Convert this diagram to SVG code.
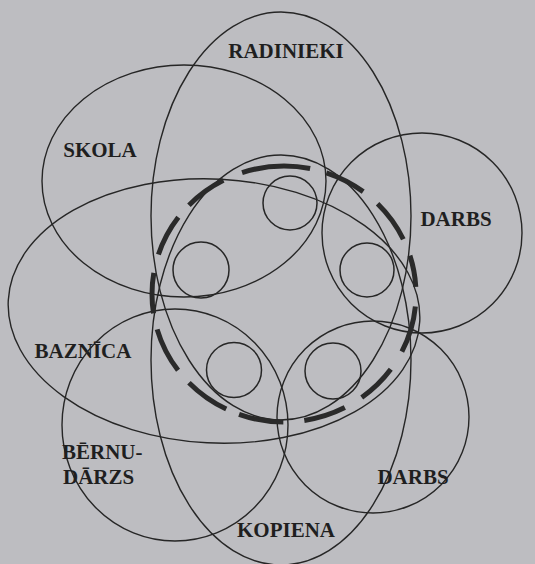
<svg xmlns="http://www.w3.org/2000/svg" width="535" height="564" viewBox="0 0 535 564">
<style>
.bg{fill:#bdbdc1}
.ring{fill:none;stroke:#262626;stroke-width:1.4}
.member{fill:none;stroke:#262626;stroke-width:1.5}
.family{fill:none;stroke:#2a2a2a;stroke-width:5}
.lbl{font-family:"Liberation Serif","Times New Roman",serif;font-weight:bold;font-size:21px;fill:#1f1f1f}
</style>
<rect class="bg" x="0" y="0" width="535" height="564"/>
<g id="radinieki">
<ellipse class="ring" cx="281" cy="216" rx="130" ry="204"/>
<text class="lbl" x="286" y="58" text-anchor="middle">RADINIEKI</text>
</g>
<g id="kopiena">
<ellipse class="ring" cx="281" cy="360" rx="130" ry="205"/>
<text class="lbl" x="286" y="537" text-anchor="middle">KOPIENA</text>
</g>
<g id="skola">
<ellipse class="ring" cx="184" cy="181" rx="142" ry="116"/>
<text class="lbl" x="100" y="157" text-anchor="middle">SKOLA</text>
</g>
<g id="darbs-1">
<circle class="ring" cx="422" cy="233" r="100"/>
<text class="lbl" x="456" y="226" text-anchor="middle">DARBS</text>
</g>
<g id="baznica">
<ellipse class="ring" cx="214" cy="311" rx="206" ry="132" transform="rotate(3 214 311)"/>
<text class="lbl" x="83" y="358" text-anchor="middle">BAZNĪCA</text>
</g>
<g id="bernudarzs">
<ellipse class="ring" cx="175" cy="425" rx="113" ry="116"/>
<text class="lbl" x="62" y="459">BĒRNU-</text>
<text class="lbl" x="63" y="484">DĀRZS</text>
</g>
<g id="darbs-2">
<circle class="ring" cx="373" cy="417" r="96"/>
<text class="lbl" x="413" y="484" text-anchor="middle">DARBS</text>
</g>
<g id="family">
<ellipse class="family" cx="284" cy="294" rx="132" ry="128" pathLength="360" stroke-dasharray="0 5.5 20.9 9.2 17.9 8.7 18.8 9.3 19.9 6.1 20.2 7.3 20.4 7.2 18 8.3 18.7 7.1 18.8 8.9 30.4 7.4 18.3 8.3 19.4 7.8 14 3.2"/>
</g>
<g id="member-1"><circle class="member" cx="290" cy="203" r="27"/></g>
<g id="member-2"><circle class="member" cx="201" cy="270" r="28"/></g>
<g id="member-3"><circle class="member" cx="367" cy="270" r="27"/></g>
<g id="member-4"><circle class="member" cx="234" cy="370" r="27.5"/></g>
<g id="member-5"><circle class="member" cx="333" cy="371" r="28"/></g>
<g id="connectors"></g>
</svg>
